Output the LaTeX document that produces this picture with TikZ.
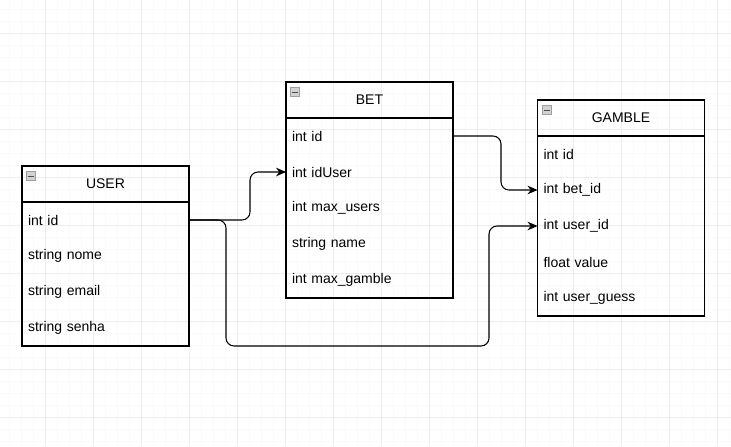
\documentclass[tikz,border=0pt]{standalone}
\usepackage{fontspec}
\setmainfont{Liberation Sans}
\usetikzlibrary{positioning,arrows.meta}

\begin{document}
\begin{tikzpicture}[x=0.75pt,y=-0.75pt,
  font=\fontsize{10.5}{12.6}\selectfont,
  tblhead/.style={draw,line width=0.8pt,minimum width=125.25pt,minimum height=27pt,inner sep=0pt,outer sep=0pt},
  tblrow/.style={text width=116.25pt,align=left,inner xsep=4.5pt,inner ysep=0pt,minimum height=27pt,outer sep=0pt},
  tblbox/.style={draw,line width=0.8pt},
  ico/.style={draw=gray!75,fill=gray!35,line width=0.5pt,minimum size=6.8pt,inner sep=0pt,outer sep=0pt,
    path picture={\draw[black!70,line width=0.6pt] ([xshift=1.3pt]path picture bounding box.west) -- ([xshift=-1.3pt]path picture bounding box.east);}},
  fk/.style={line width=0.8pt,rounded corners=6pt,-{Stealth[length=7.5pt,width=6.5pt]}}]
\fill[white] (0,0) rectangle (731,446);
\useasboundingbox (0,0) rectangle (731,446);
\foreach \gx in {9,21,...,729} \draw[gray!4,line width=0.75pt] (\gx,0) -- (\gx,446);
\foreach \gy in {9,21,...,441} \draw[gray!4,line width=0.75pt] (0,\gy) -- (731,\gy);
\foreach \gx in {45,93,...,717} \draw[gray!14,line width=0.75pt] (\gx,0) -- (\gx,446);
\foreach \gy in {33,81,...,417} \draw[gray!14,line width=0.75pt] (0,\gy) -- (731,\gy);

\node[tblhead] (user) at (105.5,184) {USER};
\node[tblrow,below=0pt of user] (uid) {int id};
\node[tblrow,below=0pt of uid] (unome) {string nome};
\node[tblrow,below=0pt of unome] (uemail) {string email};
\node[tblrow,below=0pt of uemail] (usenha) {string senha};
\draw[tblbox] (user.north west) rectangle (usenha.south east);
\node[ico,below right=4.2pt and 3.5pt of user.north west] (userico) {};

\node[tblhead] (bet) at (369.5,100) {BET};
\node[tblrow,below=0pt of bet] (bid) {int id};
\node[tblrow,below=0pt of bid] (bidu) {int idUser};
\node[tblrow,below=0pt of bidu] (bmaxu) {int max\_users};
\node[tblrow,below=0pt of bmaxu] (bname) {string name};
\node[tblrow,below=0pt of bname] (bmaxg) {int max\_gamble};
\draw[tblbox] (bet.north west) rectangle (bmaxg.south east);
\node[ico,below right=4.2pt and 3.5pt of bet.north west] (betico) {};

\node[tblhead] (gamble) at (621,118) {GAMBLE};
\node[tblrow,below=0pt of gamble] (gid) {int id};
\node[tblrow,below=0pt of gid] (gbid) {int bet\_id};
\node[tblrow,below=0pt of gbid] (guid) {int user\_id};
\node[tblrow,below=0pt of guid] (gval) {float value};
\node[tblrow,below=0pt of gval] (guess) {int user\_guess};
\draw[tblbox] (gamble.north west) rectangle (guess.south east);
\node[ico,below right=4.2pt and 3.5pt of gamble.north west] (gambleico) {};

\coordinate (lowbend) at (489,346);
\draw[fk] (uid.east) -- ++(61,0) |- (bidu.west);
\draw[fk] (uid.east) -- ++(37,0) |- (lowbend) |- (guid.west);
\draw[fk] (bid.east) -- ++(48,0) |- (gbid.west);
\end{tikzpicture}
\end{document}
